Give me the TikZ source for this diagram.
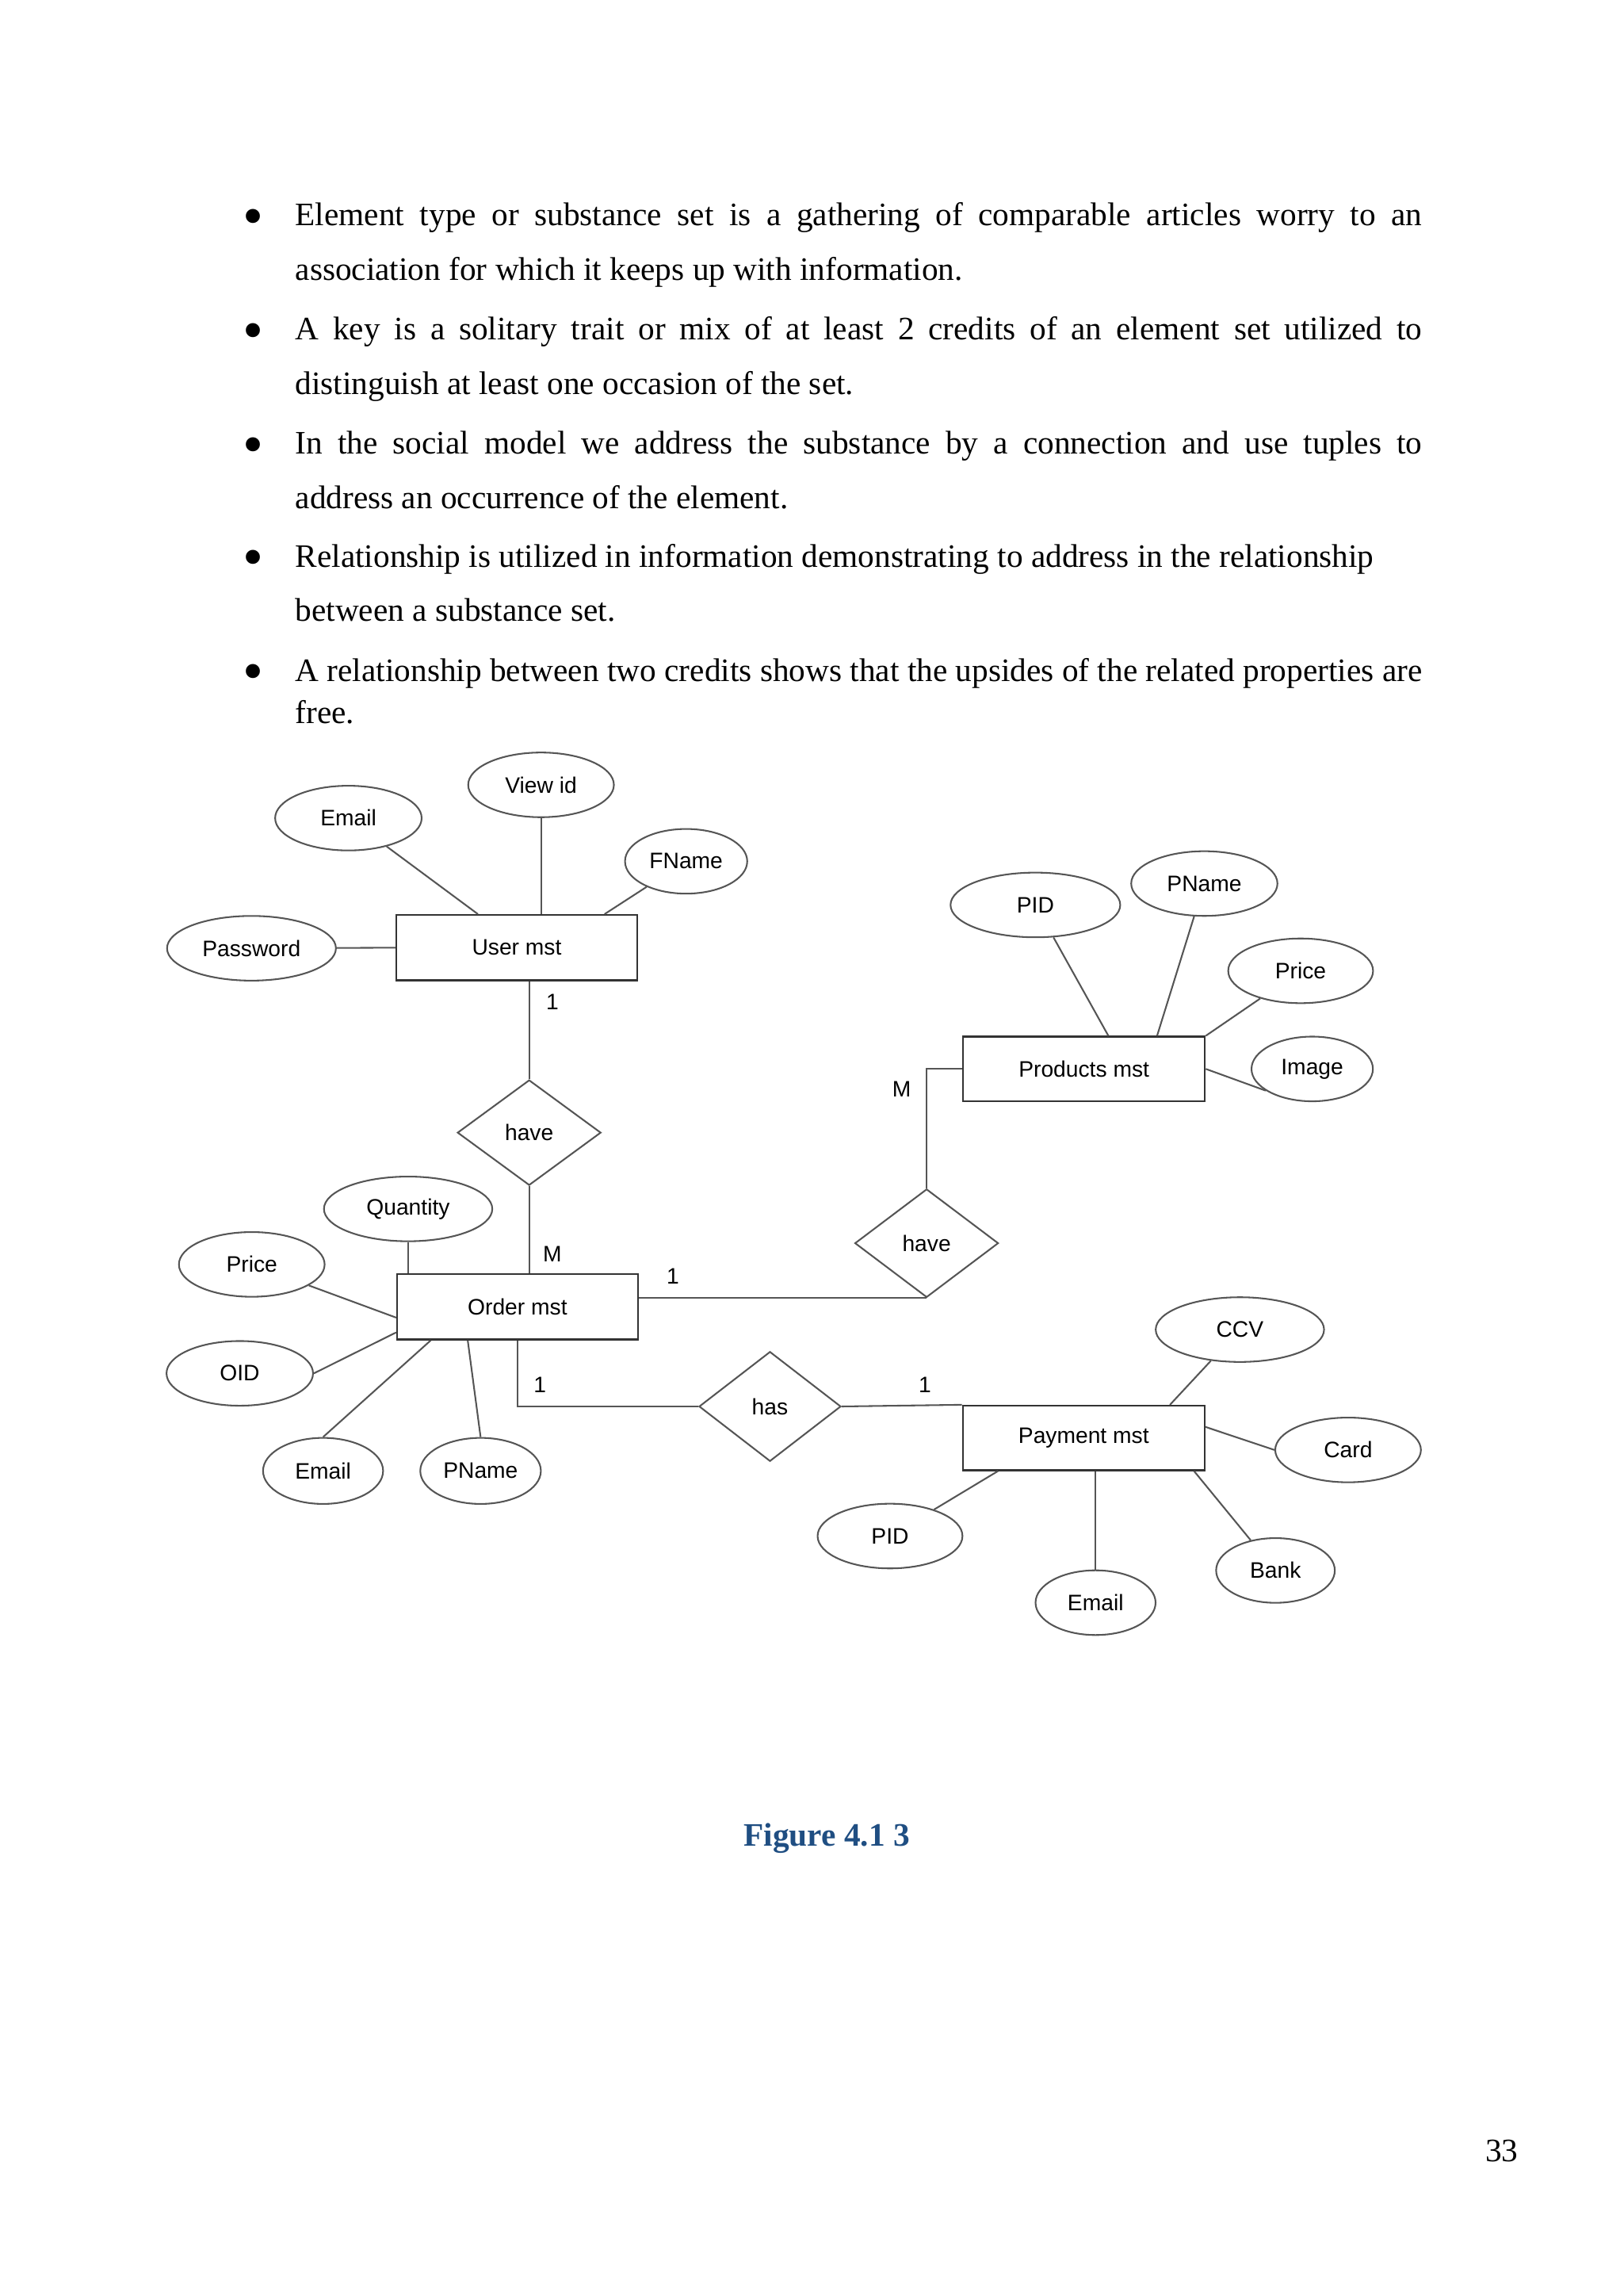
\documentclass[tikz,border=0pt]{standalone}
\usepackage{fontspec}
\setmainfont{Liberation Serif}
\newfontfamily\arialf{Liberation Sans}
\usetikzlibrary{shapes.geometric,calc}
\definecolor{capblue}{RGB}{31,78,130}
\definecolor{lncol}{RGB}{85,85,85}
\begin{document}
\begin{tikzpicture}[x=0.53652pt,y=-0.53652pt,
  body/.style={anchor=base west,inner sep=0pt,font=\fontsize{12}{14}\selectfont},
  bul/.style={anchor=base,inner sep=0pt,font=\fontsize{21.6}{22}\selectfont},
  dfont/.style={font=\arialf\fontsize{8.2}{10}\selectfont},
  attr/.style={ellipse,draw=lncol,line width=0.6pt,inner sep=0pt,minimum height=23.7pt,dfont},
  entity/.style={rectangle,draw=black!80,line width=0.7pt,inner sep=0pt,minimum width=88.2pt,minimum height=23.9pt,dfont},
  rel/.style={diamond,draw=lncol,line width=0.6pt,inner sep=0pt,minimum width=52.6pt,minimum height=39.2pt,dfont},
  card/.style={inner sep=0pt,dfont},
  conn/.style={draw=lncol,line width=0.6pt}]
\fill[white] (0,0) rectangle (1109,1568);
\useasboundingbox (0,0) rectangle (1109,1568);

% ---- bullet text ----
\node[bul] (b1) at (173,161) {•};
\node[body] (t1) at (201.4,154.2) {\makebox[413pt][s]{Element type or substance set is a gathering of comparable articles worry to an}};
\node[body] (t2) at (201.4,191.2) {association for which it keeps up with information.};
\node[bul] (b2) at (173,239) {•};
\node[body] (t3) at (201.4,232.2) {\makebox[413pt][s]{A key is a solitary trait or mix of at least 2 credits of an element set utilized to}};
\node[body] (t4) at (201.4,269.2) {distinguish at least one occasion of the set.};
\node[bul] (b3) at (173,317) {•};
\node[body] (t5) at (201.4,310.2) {\makebox[413pt][s]{In the social model we address the substance by a connection and use tuples to}};
\node[body] (t6) at (201.4,347.2) {address an occurrence of the element.};
\node[bul] (b4) at (173,394) {•};
\node[body] (t7) at (201.4,387.2) {Relationship is utilized in information demonstrating to address in the relationship};
\node[body] (t8) at (201.4,424.2) {between a substance set.};
\node[bul] (b5) at (173,472) {•};
\node[body] (t9) at (201.4,465.2) {\makebox[413pt][s]{A relationship between two credits shows that the upsides of the related properties are}};
\node[body] (t10) at (201.4,494.2) {free.};

% ---- entities ----
\node[entity] (user) at (353,647.2) {User mst};
\node[entity] (order) at (353.5,892.5) {Order mst};
\node[entity,minimum width=88.6pt,minimum height=23.6pt] (products) at (740.5,730) {Products mst};
\node[entity,minimum width=88.6pt,minimum height=23.6pt] (payment) at (740.3,982) {Payment mst};

% ---- relationships ----
\node[rel,minimum height=38.6pt] (have1) at (361.5,773.5) {have};
\node[rel,minimum height=39.7pt] (have2) at (633,849) {have};
\node[rel,minimum width=52pt,minimum height=40.2pt] (has) at (526,960.5) {has};

% ---- user attributes ----
\node[attr,minimum width=53.4pt] (viewid) at (369.6,536) {View id};
\node[attr,minimum width=53.7pt] (uemail) at (238,558.7) {Email};
\node[attr,minimum width=44.8pt] (fname) at (468.7,588.2) {FName};
\node[attr,minimum width=61.9pt] (password) at (171.8,647.6) {Password};

% ---- order attributes ----
\node[attr,minimum width=61.7pt] (quantity) at (278.8,825.6) {Quantity};
\node[attr,minimum width=53.4pt] (oprice) at (172,863.5) {Price};
\node[attr,minimum width=53.7pt] (oid) at (163.8,937.9) {OID};
\node[attr,minimum width=44pt,minimum height=24.2pt] (oemail) at (220.7,1004.5) {Email};
\node[attr,minimum width=44.2pt,minimum height=24.2pt] (opname) at (328.3,1004.5) {PName};

% ---- product attributes ----
\node[attr,minimum width=62.2pt] (ppid) at (707.3,618) {PID};
\node[attr,minimum width=53.6pt] (ppname) at (822.7,603.4) {PName};
\node[attr,minimum width=53.1pt] (pprice) at (888.5,663) {Price};
\node[attr,minimum width=44.5pt] (image) at (896.4,730) {Image};

% ---- payment attributes ----
\node[attr,minimum width=61.7pt] (ccv) at (847,908) {CCV};
\node[attr,minimum width=53.4pt] (pcard) at (920.9,990.2) {Card};
\node[attr,minimum width=43.5pt] (bank) at (871.3,1072.5) {Bank};
\node[attr,minimum width=44pt] (pemail) at (748.4,1094.5) {Email};
\node[attr,minimum width=53.1pt] (paypid) at (608,1049) {PID};

% ---- cardinalities ----
\node[card] (c1) at (377.4,684.4) {1};
\node[card] (c2) at (377.3,856.5) {M};
\node[card] (c3) at (459.6,871.8) {1};
\node[card] (c4) at (368.9,945.8) {1};
\node[card] (c5) at (631.9,946) {1};
\node[card] (c6) at (616,744) {M};

% ---- connectors: user ----
\draw[conn] (uemail) -- ($(user.north west)!0.34!(user.north east)$);
\draw[conn] (viewid) -- (viewid |- user.north);
\draw[conn] (fname) -- ($(user.north west)!0.862!(user.north east)$);
\draw[conn] (password) -- (user.west);
\draw[conn] (user.south -| have1.north) -- (have1.north);
\draw[conn] (have1.south) -- (have1.south |- order.north);

% ---- connectors: order ----
\draw[conn] (quantity) -- (quantity |- order.north);
\draw[conn] (oprice) -- ($(order.north west)!0.66!(order.south west)$);
\draw[conn] (oid.east) -- ($(order.north west)!0.88!(order.south west)$);
\draw[conn] (oemail.north) -- ($(order.south west)!0.142!(order.south east)$);
\draw[conn] (opname.north) -- ($(order.south west)!0.295!(order.south east)$);
\draw[conn] (order.east |- have2.south) -- (have2.south);
\draw[conn] (order.south) -- (order.south |- has.west) -- (has.west);

% ---- connectors: products ----
\draw[conn] (have2.north) -- (have2.north |- products.west) -- (products.west);
\draw[conn] (ppid) -- ($(products.north west)!0.60!(products.north east)$);
\draw[conn] (ppname) -- ($(products.north west)!0.80!(products.north east)$);
\draw[conn] (pprice) -- (products.north east);
\draw[conn] (products.east) -- (image.205);

% ---- connectors: payment ----
\draw[conn] (has.east) -- (payment.north west);
\draw[conn] (ccv) -- ($(payment.north west)!0.854!(payment.north east)$);
\draw[conn] ($(payment.north east)!0.334!(payment.south east)$) -- (pcard.west);
\draw[conn] ($(payment.south west)!0.953!(payment.south east)$) -- (bank);
\draw[conn] (pemail |- payment.south) -- (pemail.north);
\draw[conn] ($(payment.south west)!0.148!(payment.south east)$) -- (paypid);

% ---- caption and page number ----
\node[anchor=base,inner sep=0pt,text=capblue,font=\bfseries\fontsize{12}{14}\selectfont] (caption) at (564.8,1260.8) {Figure 4.1 3};
\node[anchor=base,inner sep=0pt,font=\fontsize{12}{14}\selectfont] (pageno) at (1026,1476.3) {33};
\end{tikzpicture}
\end{document}
